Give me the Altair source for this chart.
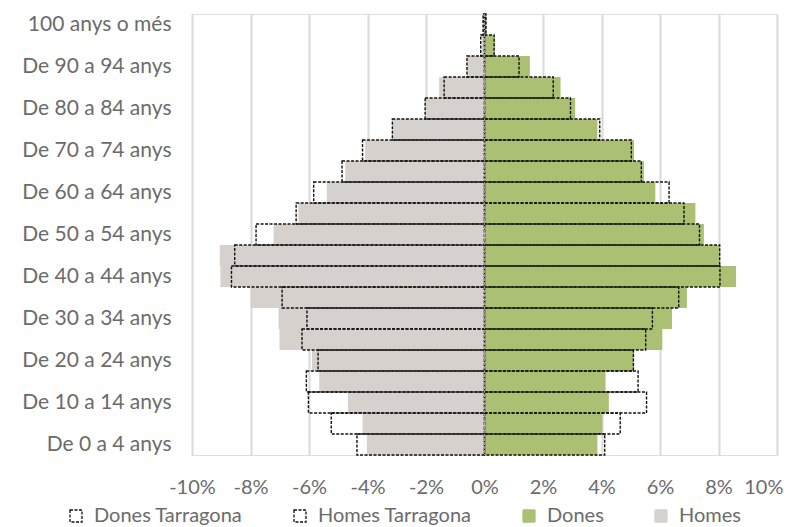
import altair as alt
import pandas as pd

# Age groups, from top (oldest) to bottom (youngest)
ages = ["100 anys o més", "De 95 a 99 anys", "De 90 a 94 anys", "De 85 a 89 anys",
        "De 80 a 84 anys", "De 75 a 79 anys", "De 70 a 74 anys", "De 65 a 69 anys",
        "De 60 a 64 anys", "De 55 a 59 anys", "De 50 a 54 anys", "De 45 a 49 anys",
        "De 40 a 44 anys", "De 35 a 39 anys", "De 30 a 34 anys", "De 25 a 29 anys",
        "De 20 a 24 anys", "De 15 a 19 anys", "De 10 a 14 anys", "De 5 a 9 anys",
        "De 0 a 4 anys"]

homes = [-0.02, -0.10, -0.60, -1.55, -2.03, -3.15, -4.08, -4.76, -5.39, -6.36, -7.21,
         -9.05, -9.03, -8.00, -7.04, -7.01, -5.90, -5.65, -4.67, -4.17, -4.02]
dones = [0.06, 0.35, 1.55, 2.60, 3.10, 3.86, 5.11, 5.45, 5.84, 7.21, 7.50,
         8.04, 8.60, 6.92, 6.41, 6.08, 5.11, 4.14, 4.25, 4.03, 3.86]
homes_tgn = [-0.05, -0.13, -0.60, -1.38, -2.03, -3.15, -4.17, -4.87, -5.84, -6.44, -7.81,
             -8.54, -8.65, -6.92, -6.07, -6.24, -5.69, -6.09, -6.02, -5.24, -4.36]
dones_tgn = [0.05, 0.33, 1.18, 2.35, 2.94, 3.94, 5.02, 5.36, 6.31, 6.82, 7.35,
             8.04, 8.05, 6.64, 5.74, 5.51, 5.09, 5.25, 5.54, 4.64, 4.11]

series_order = ["Dones Tarragona", "Homes Tarragona", "Dones", "Homes"]
axis_labels = ages[0::2]
x_ticks = [-10, -8, -6, -4, -2, 0, 2, 4, 6, 8, 10]

rows = []
for i, a in enumerate(ages):
    rows.append({"age": a, "series": "Homes", "value": homes[i]})
    rows.append({"age": a, "series": "Dones", "value": dones[i]})
    rows.append({"age": a, "series": "Homes Tarragona", "value": homes_tgn[i]})
    rows.append({"age": a, "series": "Dones Tarragona", "value": dones_tgn[i]})
df = pd.DataFrame(rows)

FONT = "Lato"
FS = 21
FSX = 20
TXT = "#6b6b6b"
GREEN = "#abc072"
GREY = "#d6d1cc"

y_enc = alt.Y("age:N", sort=ages, title=None,
              scale=alt.Scale(paddingInner=0, paddingOuter=0),
              axis=alt.Axis(values=axis_labels, ticks=False, domain=False, grid=False,
                            labelFontSize=FS, labelColor=TXT, labelFont=FONT,
                            labelPadding=21, minExtent=184, maxExtent=184, labelLimit=300))
x_enc = alt.X("value:Q", title=None,
              scale=alt.Scale(domain=[-10, 10], nice=False),
              axis=alt.Axis(values=x_ticks, labelExpr="datum.value + '%'", ticks=False,
                            domain=False, grid=True, gridColor="#d9d9d9", gridWidth=2,
                            labelFontSize=FSX, labelColor=TXT, labelFont=FONT,
                            labelAlign={"condition": {"test": "datum.value == 10",
                                                      "value": "right"},
                                        "value": "center"},
                            labelOffset={"condition": {"test": "datum.value == 10",
                                                       "value": 6},
                                         "value": 0},
                            labelPadding=22, labelFlush=False, labelOverlap=False))

color_fill = alt.Fill("series:N", title=None,
                      scale=alt.Scale(domain=series_order,
                                      range=["transparent", "transparent", GREEN, GREY]),
                      legend=alt.Legend(orient="none", legendX=-126, legendY=492,
                                        direction="horizontal",
                                        symbolType="square", symbolSize=144,
                                        symbolStrokeWidth=1.3, labelLimit=400,
                                        labelFontSize=20, labelColor=TXT, labelFont=FONT,
                                        columnPadding=47, labelOffset=8,
                                        padding=0))
color_stroke = alt.Stroke("series:N", title=None,
                          scale=alt.Scale(domain=series_order,
                                          range=["#111111", "#111111", GREEN, GREY]))
dash = alt.StrokeDash("series:N", title=None,
                      scale=alt.Scale(domain=series_order,
                                      range=[[3, 1.5], [3, 1.5], [1, 0], [1, 0]]))

base = alt.Chart(df).encode(y=y_enc, x=x_enc, fill=color_fill, stroke=color_stroke,
                            strokeDash=dash)

filled = base.mark_bar(strokeWidth=0.01).transform_filter(
    alt.FieldOneOfPredicate(field="series", oneOf=["Dones", "Homes"]))
outline = base.mark_bar(strokeWidth=1.4, fillOpacity=0).transform_filter(
    alt.FieldOneOfPredicate(field="series", oneOf=["Dones Tarragona", "Homes Tarragona"]))

zero = alt.Chart(pd.DataFrame({"z": [0]})).mark_rule(
    color="#9a9a9a", strokeWidth=1, strokeDash=[3, 1]).encode(x=alt.X("z:Q"))

chart = alt.layer(filled, outline, zero).properties(
    width=585, height=441,
    padding={"left": 0, "top": 5, "right": 0, "bottom": 0}
).configure_view(stroke=None).configure(font=FONT)

chart.save("out.html", embed_options={"renderer": "svg", "actions": False})
